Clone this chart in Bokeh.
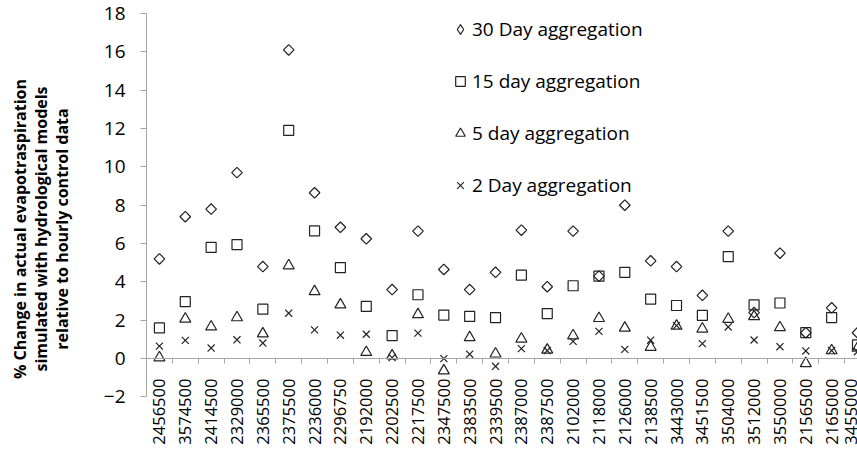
import math
from bokeh.plotting import figure
from bokeh.models import Range1d, FixedTicker
from bokeh.embed import file_html
from bokeh.resources import INLINE

stations = ["2456500", "3574500", "2414500", "2329000", "2365500", "2375500", "2236000",
            "2296750", "2192000", "2202500", "2217500", "2347500", "2383500", "2339500",
            "2387000", "2387500", "2102000", "2118000", "2126000", "2138500", "3443000",
            "3451500", "3504000", "3512000", "3550000", "2156500", "2165000", "3455000"]

day30 = [5.2, 7.4, 7.8, 9.7, 4.8, 16.1, 8.65, 6.85, 6.25, 3.6, 6.65, 4.65, 3.6, 4.5,
         6.7, 3.75, 6.65, 4.3, 8.0, 5.1, 4.8, 3.3, 6.65, 2.4, 5.5, 1.35, 2.65, 1.35]
day15 = [1.6, 2.97, 5.8, 5.95, 2.58, 11.9, 6.66, 4.75, 2.72, 1.2, 3.33, 2.27, 2.2, 2.14,
         4.35, 2.35, 3.8, 4.3, 4.5, 3.1, 2.77, 2.25, 5.32, 2.8, 2.9, 1.35, 2.14, 0.72]
day5 = [0.05, 2.07, 1.66, 2.14, 1.3, 4.85, 3.5, 2.81, 0.33, 0.15, 2.3, -0.63, 1.1, 0.25,
        1.03, 0.45, 1.2, 2.1, 1.6, 0.6, 1.7, 1.55, 2.06, 2.2, 1.62, -0.25, 0.42, 0.55]
day2 = [0.65, 0.95, 0.55, 0.98, 0.81, 2.37, 1.5, 1.22, 1.27, 0.05, 1.33, 0.0, 0.23, -0.4,
        0.52, 0.42, 0.9, 1.42, 0.48, 0.96, 1.72, 0.78, 1.65, 0.97, 0.62, 0.4, 0.42, 0.36]

y_ticks = list(range(-2, 19, 2))
y_title = ("% Change in actual evapotraspiration\n"
           "simulated with hydrological models\n"
           "relative to hourly control data")

FONT = "Open Sans"
GREY = "#a6a6a6"
INK = "#222222"

xs = [i + 0.5 for i in range(len(stations))]

p = figure(width=857, height=463, output_backend="svg", toolbar_location=None,
           x_range=Range1d(0, 27.5), y_range=Range1d(-4.48, 18),
           min_border_left=146, min_border_right=0, min_border_top=13,
           min_border_bottom=19)
p.xgrid.visible = False
p.ygrid.visible = False
p.outline_line_color = None
p.background_fill_color = "white"
p.border_fill_color = "white"

# legend-only diamond (legend glyphs ignore marker angle)
p.scatter(xs, day30, marker="diamond", size=12, fill_color=None, line_color=INK,
          line_width=1.2, legend_label="30 Day aggregation", visible=False)
p.scatter(xs, day30, marker="square", angle=math.pi / 4, size=7.5, fill_color=None,
          line_color=INK, line_width=1.2)
p.scatter(xs, day15, marker="square", size=10, fill_color=None,
          line_color=INK, line_width=1.2, legend_label="15 day aggregation")
p.scatter(xs, day5, marker="triangle", size=11, fill_color=None,
          line_color=INK, line_width=1.2, legend_label="5 day aggregation")
p.scatter(xs, day2, marker="x", size=10, fill_color=None,
          line_color=INK, line_width=1.2, legend_label="2 Day aggregation")

xa = p.xaxis[0]
xa.ticker = FixedTicker(ticks=xs, minor_ticks=list(range(len(stations) + 1)))
xa.major_label_overrides = {x: s for x, s in zip(xs, stations)}
xa.fixed_location = 0
xa.major_label_orientation = math.pi / 2
xa.major_tick_line_color = None
xa.major_tick_out = 0
xa.major_tick_in = 0
xa.minor_tick_out = 5
xa.minor_tick_in = 0
xa.minor_tick_line_color = GREY
xa.axis_line_color = GREY
xa.major_label_standoff = 15
xa.major_label_text_font = FONT
xa.major_label_text_font_size = "16.5px"
xa.major_label_text_color = "black"

ya = p.yaxis[0]
ya.ticker = FixedTicker(ticks=y_ticks)
ya.bounds = (-2, 18)
ya.major_tick_out = 6
ya.major_tick_in = 0
ya.minor_tick_line_color = None
ya.major_tick_line_color = GREY
ya.axis_line_color = GREY
ya.major_label_standoff = 15
ya.major_label_text_font = FONT
ya.major_label_text_font_size = "19px"
ya.major_label_text_color = "black"
ya.axis_label = y_title
ya.axis_label_text_font = FONT
ya.axis_label_text_font_style = "bold"
ya.axis_label_text_font_size = "16px"
ya.axis_label_text_line_height = 0.95
ya.axis_label_text_color = "black"
ya.axis_label_standoff = 28

lg = p.legend[0]
lg.location = (302, 246)
lg.border_line_color = None
lg.background_fill_alpha = 0
lg.padding = 0
lg.margin = 0
lg.spacing = 26
lg.glyph_width = 24
lg.glyph_height = 24
lg.label_height = 24
lg.label_standoff = 0
lg.label_text_font = FONT
lg.label_text_font_size = "19px"
lg.label_text_color = "black"

open("out.html", "w").write(file_html(p, INLINE))
